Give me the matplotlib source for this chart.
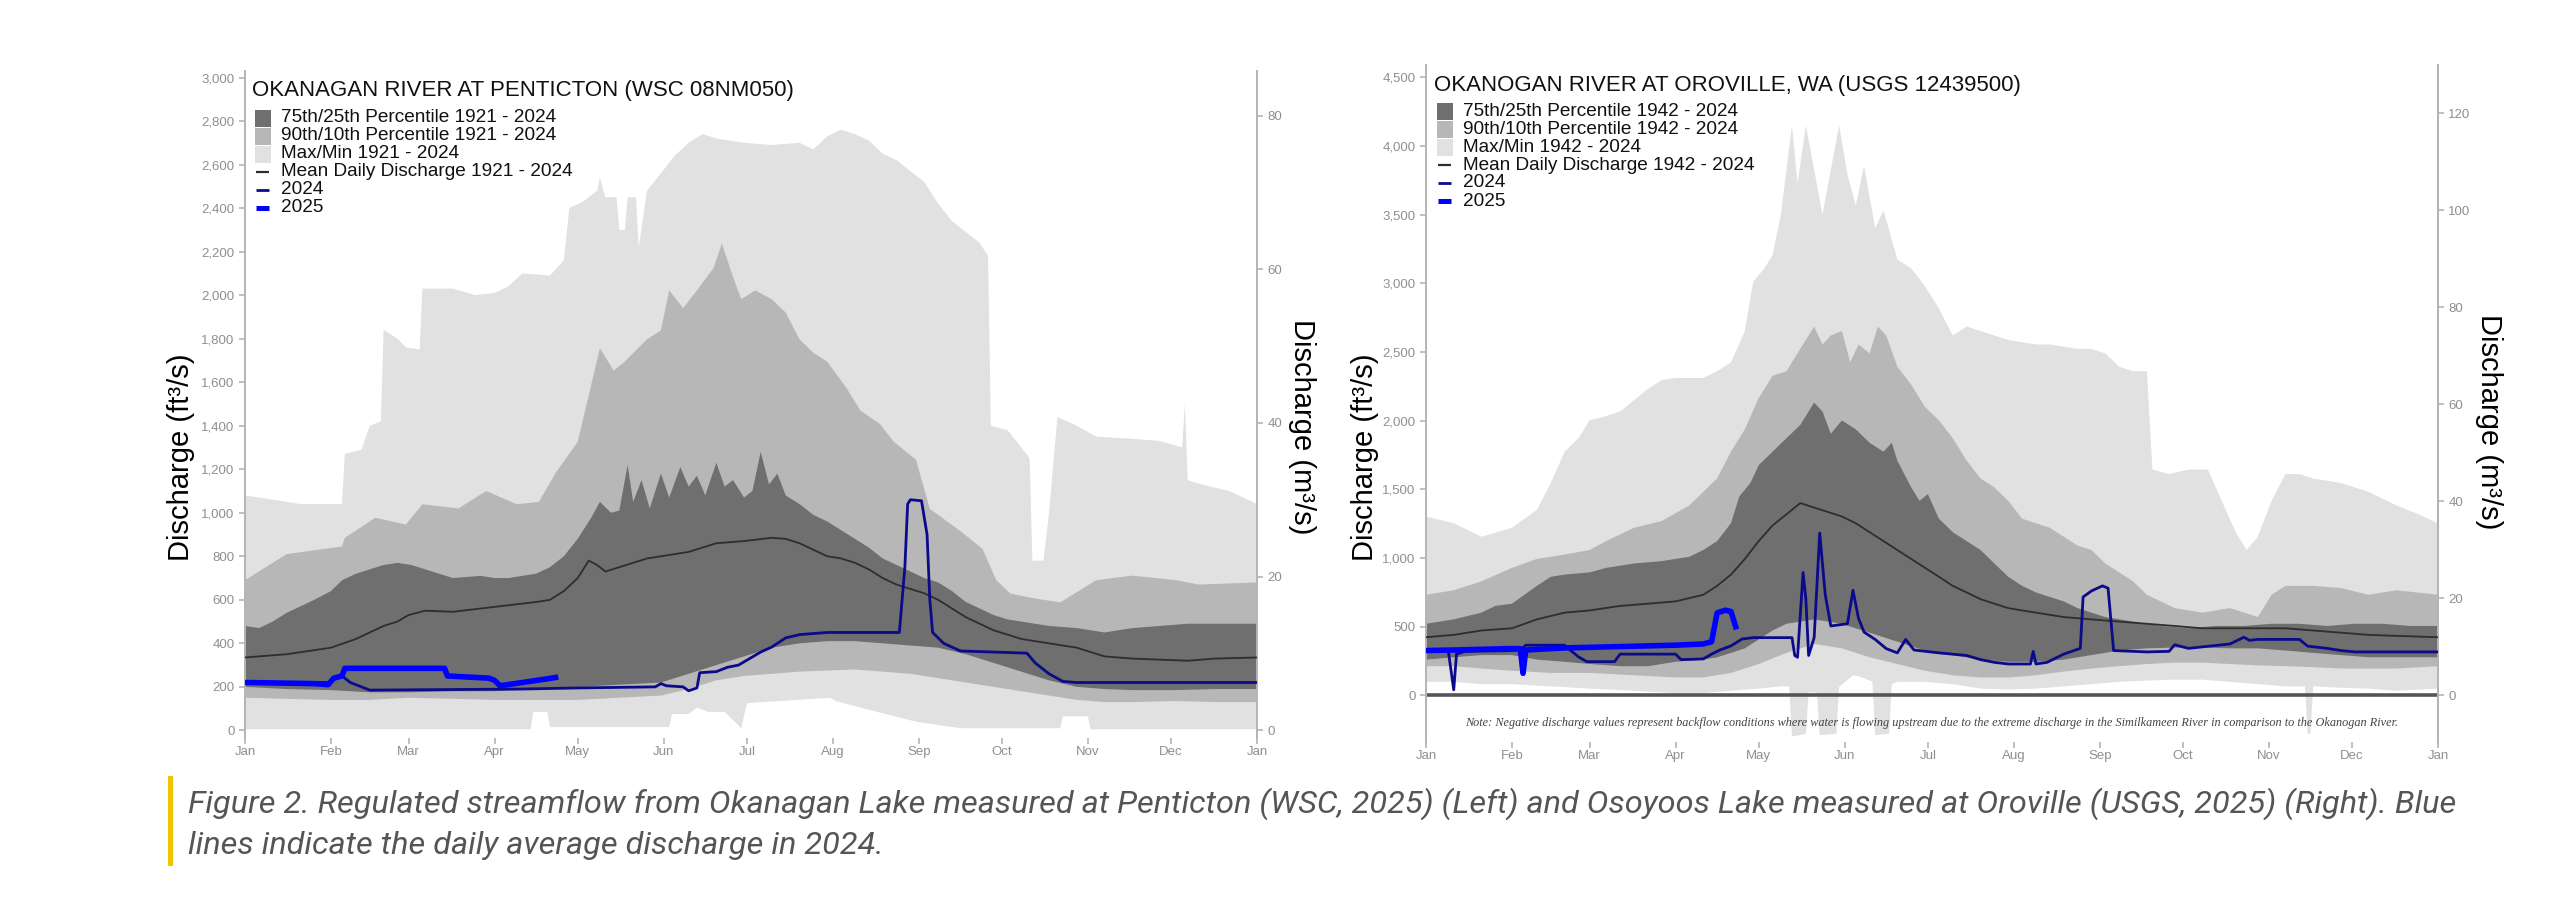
import numpy as np
import matplotlib
matplotlib.use("Agg")
import matplotlib.pyplot as plt
from matplotlib.patches import Rectangle
from matplotlib.lines import Line2D

plt.rcParams['font.family'] = ['Liberation Sans', 'DejaVu Sans']

W, H = 2560, 898
CFS_TO_CMS = 0.0283168

MONTHS = ['Jan', 'Feb', 'Mar', 'Apr', 'May', 'Jun', 'Jul', 'Aug', 'Sep', 'Oct', 'Nov', 'Dec', 'Jan']
MONTH_DAYS = [0, 31, 59, 90, 120, 151, 181, 212, 243, 273, 304, 334, 365]

# ---------------- Left chart: Okanagan River at Penticton ----------------
L_TITLE = 'OKANAGAN RIVER AT PENTICTON (WSC 08NM050)'
L_LEGEND = ['75th/25th Percentile 1921 - 2024', '90th/10th Percentile 1921 - 2024',
            'Max/Min 1921 - 2024', 'Mean Daily Discharge 1921 - 2024', '2024', '2025']
L_YTICKS = [0, 200, 400, 600, 800, 1000, 1200, 1400, 1600, 1800, 2000, 2200, 2400, 2600, 2800, 3000]
L_Y2TICKS = [0, 20, 40, 60, 80]

L_max_d = [0, 10, 20, 30, 35, 36, 42, 45, 49, 50, 55, 58, 63, 64, 75, 83, 90, 95, 100, 110, 115, 117,
           122, 127, 128, 130, 134, 135, 137, 138, 141, 142, 145, 150, 155, 160, 165, 170, 180, 190, 200,
           205, 210, 215, 220, 225, 230, 235, 240, 245, 250, 255, 260, 265, 268, 269, 275, 280, 283, 284,
           288, 290, 293, 300, 307, 320, 330, 338, 339, 340, 345, 355, 365]
L_max_v = [1080, 1060, 1040, 1040, 1040, 1270, 1290, 1400, 1420, 1840, 1800, 1760, 1750, 2030, 2030, 2000,
           2010, 2040, 2100, 2090, 2160, 2400, 2430, 2480, 2540, 2450, 2450, 2300, 2300, 2450, 2450, 2220,
           2480, 2560, 2640, 2700, 2740, 2720, 2700, 2690, 2700, 2670, 2730, 2760, 2740, 2710, 2650, 2620,
           2570, 2520, 2420, 2340, 2290, 2240, 2180, 1400, 1380, 1300, 1250, 780, 780, 1000, 1440, 1400,
           1350, 1340, 1330, 1300, 1500, 1150, 1130, 1100, 1040]
L_min_d = [0, 103, 104, 109, 110, 153, 154, 160, 163, 167, 173, 179, 181, 211, 213, 228, 242, 258, 294,
           295, 304, 305, 365]
L_min_v = [5, 5, 85, 85, 15, 15, 75, 75, 105, 85, 85, 10, 125, 150, 135, 85, 40, 10, 10, 65, 65, 5, 5]
L_p90_d = [0, 15, 35, 36, 47, 58, 64, 77, 87, 98, 106, 112, 120, 128, 133, 137, 145, 150, 153, 158, 163,
           169, 172, 176, 179, 184, 190, 195, 200, 205, 210, 217, 222, 229, 234, 242, 247, 258, 266, 271,
           276, 284, 294, 307, 320, 336, 344, 365]
L_p90_v = [690, 810, 845, 885, 977, 946, 1039, 1020, 1100, 1039, 1050, 1182, 1326, 1756, 1653, 1695, 1797,
           1838, 2022, 1940, 2022, 2125, 2237, 2084, 1981, 2022, 1981, 1920, 1797, 1735, 1694, 1572, 1469,
           1408, 1326, 1244, 1018, 916, 834, 690, 629, 608, 588, 690, 711, 690, 670, 680]
L_p75_d = [0, 5, 10, 15, 20, 25, 31, 35, 40, 45, 50, 55, 60, 65, 70, 75, 80, 85, 90, 95, 100, 105, 110,
           115, 120, 125, 128, 132, 135, 138, 140, 143, 146, 150, 153, 157, 160, 163, 166, 170, 173, 176,
           180, 183, 186, 189, 192, 195, 200, 205, 210, 215, 220, 225, 230, 235, 240, 245, 250, 255, 260,
           265, 270, 275, 280, 290, 300, 310, 320, 330, 340, 350, 365]
L_p75_v = [480, 470, 500, 540, 570, 600, 640, 690, 720, 740, 760, 770, 760, 740, 720, 700, 705, 710, 700,
           700, 710, 720, 750, 800, 880, 980, 1050, 1000, 1010, 1220, 1050, 1150, 1020, 1180, 1070, 1210,
           1120, 1170, 1080, 1230, 1120, 1150, 1070, 1100, 1280, 1130, 1180, 1080, 1040, 990, 960, 920, 880,
           840, 790, 760, 730, 700, 680, 640, 590, 560, 530, 510, 500, 480, 470, 450, 470, 480, 490, 490, 490]
L_mean_d = [0, 15, 31, 40, 50, 55, 59, 65, 75, 85, 95, 105, 110, 115, 120, 124, 127, 130, 135, 140, 145,
            150, 160, 170, 180, 190, 195, 200, 205, 210, 215, 220, 225, 230, 235, 240, 245, 250, 255, 260,
            265, 270, 275, 280, 290, 300, 305, 310, 320, 330, 340, 350, 365]
L_mean_v = [335, 350, 380, 420, 480, 500, 530, 550, 545, 560, 575, 590, 600, 640, 700, 780, 760, 730, 750,
            770, 790, 800, 820, 860, 870, 885, 880, 860, 830, 800, 790, 770, 740, 700, 670, 650, 630, 600,
            560, 520, 490, 460, 440, 420, 400, 380, 360, 340, 330, 325, 320, 330, 335]
L_p25_d = [0, 15, 31, 45, 59, 75, 90, 105, 120, 135, 150, 160, 170, 180, 190, 200, 210, 220, 230, 240,
           250, 260, 270, 280, 290, 300, 310, 320, 335, 350, 365]
L_p25_v = [200, 190, 185, 175, 175, 180, 180, 190, 200, 210, 220, 260, 300, 340, 380, 400, 410, 410, 400,
           390, 380, 350, 310, 270, 230, 200, 190, 185, 185, 190, 190]
L_p10_d = [0, 15, 31, 45, 59, 75, 90, 105, 120, 135, 150, 160, 170, 180, 190, 200, 210, 220, 230, 240,
           250, 260, 270, 280, 290, 300, 310, 320, 335, 350, 365]
L_p10_v = [150, 145, 140, 140, 150, 145, 140, 140, 140, 150, 160, 190, 230, 250, 260, 270, 275, 280, 270,
           260, 240, 220, 200, 180, 160, 140, 130, 130, 135, 130, 130]
L_2024_d = [0, 31, 33, 35, 38, 42, 45, 100, 120, 148, 150, 152, 158, 160, 163, 164, 170, 174, 178, 182,
            186, 190, 195, 200, 210, 236, 238, 239, 240, 244, 246, 247, 248, 252, 258, 282, 285, 290, 295,
            300, 365]
L_2024_v = [220, 220, 245, 250, 220, 200, 185, 190, 195, 200, 215, 205, 200, 182, 195, 265, 270, 290, 300,
            330, 360, 383, 425, 440, 450, 450, 750, 1040, 1060, 1055, 900, 600, 450, 400, 365, 355, 310,
            260, 225, 220, 220]
L_2025_d = [0, 25, 30, 32, 35, 36, 72, 73, 88, 90, 92, 100, 108, 113]
L_2025_v = [220, 215, 210, 240, 250, 285, 285, 250, 240, 230, 205, 220, 235, 245]

# ---------------- Right chart: Okanogan River at Oroville ----------------
R_TITLE = 'OKANOGAN RIVER AT OROVILLE, WA (USGS 12439500)'
R_LEGEND = ['75th/25th Percentile 1942 - 2024', '90th/10th Percentile 1942 - 2024',
            'Max/Min 1942 - 2024', 'Mean Daily Discharge 1942 - 2024', '2024', '2025']
R_YTICKS = [0, 500, 1000, 1500, 2000, 2500, 3000, 3500, 4000, 4500]
R_Y2TICKS = [0, 20, 40, 60, 80, 100, 120]
R_NOTE = ('Note: Negative discharge values represent backflow conditions where water is flowing upstream '
          'due to the extreme discharge in the Similkameen River in comparison to the Okanogan River.')

R_max_d = [0, 10, 20, 31, 40, 45, 50, 55, 59, 65, 70, 80, 85, 90, 100, 105, 110, 115, 118, 122, 125, 128,
           132, 134, 137, 140, 143, 146, 149, 152, 155, 158, 162, 165, 170, 175, 180, 185, 190, 195, 200,
           205, 210, 215, 220, 225, 230, 235, 240, 245, 250, 255, 260, 262, 268, 275, 282, 287, 292, 296,
           300, 305, 310, 315, 320, 330, 340, 350, 358, 365]
R_max_v = [1302, 1253, 1155, 1220, 1350, 1546, 1774, 1872, 2002, 2034, 2067, 2230, 2295, 2311, 2311, 2360,
           2425, 2653, 3011, 3108, 3206, 3499, 4150, 3727, 4150, 3825, 3499, 3825, 4150, 3792, 3564, 3857,
           3401, 3532, 3174, 3108, 2978, 2816, 2620, 2686, 2653, 2620, 2588, 2571, 2555, 2555, 2539, 2523,
           2523, 2490, 2392, 2360, 2360, 1644, 1611, 1644, 1644, 1416, 1188, 1058, 1155, 1416, 1611, 1611,
           1579, 1546, 1481, 1383, 1318, 1253]
R_min_d = [0, 10, 20, 31, 45, 59, 75, 90, 100, 110, 120, 128, 131, 132, 137, 138, 141, 142, 148, 149,
           154, 156, 161, 162, 167, 168, 170, 180, 190, 200, 210, 220, 230, 240, 250, 260, 270,
           280, 290, 300, 310, 317, 318, 319, 320, 330, 340, 350, 365]
R_min_v = [98, 98, 81, 81, 65, 49, 33, 16, 16, 33, 49, 65, 65, -300, -280, 20, 20, -290, -280, 60,
           146, 140, 100, -290, -280, 81, 98, 98, 81, 49, 42, 49, 65, 81, 98, 107, 114,
           114, 98, 81, 65, 65, -280, -280, 65, 55, 49, 33, 49]
R_p90_d = [0, 10, 20, 31, 40, 50, 59, 65, 75, 85, 95, 100, 105, 110, 115, 120, 125, 130, 135, 140, 143,
           146, 150, 153, 156, 160, 163, 166, 170, 175, 180, 185, 190, 195, 200, 205, 210, 215, 220, 225,
           230, 235, 240, 245, 250, 255, 260, 265, 270, 280, 290, 300, 305, 310, 320, 330, 340, 350, 365]
R_p90_v = [732, 765, 830, 928, 993, 1025, 1058, 1123, 1220, 1269, 1383, 1481, 1579, 1774, 1937, 2165, 2327,
           2360, 2523, 2686, 2555, 2620, 2653, 2425, 2555, 2490, 2686, 2620, 2392, 2262, 2099, 2002, 1872,
           1709, 1579, 1514, 1416, 1286, 1253, 1220, 1155, 1090, 1058, 960, 895, 830, 732, 684, 635, 602,
           635, 570, 732, 797, 797, 781, 732, 765, 732]
R_p75_d = [0, 10, 20, 25, 31, 40, 45, 50, 59, 65, 75, 85, 95, 100, 105, 110, 113, 117, 120, 125, 130, 135,
           140, 143, 146, 150, 155, 160, 165, 168, 170, 175, 178, 181, 185, 190, 195, 200, 205, 210, 215,
           220, 225, 230, 235, 240, 245, 255, 265, 275, 285, 295, 305, 315, 325, 335, 345, 355, 365]
R_p75_v = [521, 553, 602, 651, 667, 797, 863, 879, 895, 928, 960, 977, 1009, 1058, 1123, 1253, 1448, 1546,
           1676, 1774, 1872, 1969, 2132, 2067, 1904, 2002, 1937, 1839, 1774, 1839, 1709, 1514, 1416, 1465,
           1286, 1188, 1123, 1058, 960, 863, 797, 749, 716, 684, 635, 602, 570, 537, 505, 488, 505, 505, 521,
           521, 505, 521, 521, 505, 505]
R_mean_d = [0, 10, 20, 31, 40, 50, 59, 70, 80, 90, 100, 105, 110, 115, 120, 125, 130, 135, 140, 145, 150,
            155, 160, 165, 170, 175, 180, 185, 190, 195, 200, 205, 210, 215, 220, 230, 240, 250, 260, 270,
            280, 290, 300, 310, 320, 330, 340, 350, 365]
R_mean_v = [423, 440, 472, 488, 553, 602, 618, 651, 667, 684, 732, 797, 879, 993, 1123, 1237, 1318, 1400,
            1367, 1335, 1302, 1253, 1188, 1123, 1058, 993, 928, 863, 797, 749, 700, 667, 635, 618, 602, 570,
            553, 537, 521, 505, 488, 488, 488, 488, 472, 456, 440, 433, 423]
R_p25_d = [0, 10, 20, 31, 40, 50, 59, 70, 80, 90, 100, 105, 110, 115, 120, 125, 130, 135, 140, 145, 150,
           155, 160, 165, 170, 175, 180, 190, 200, 210, 220, 230, 240, 250, 260, 270, 280, 290, 300, 310,
           320, 330, 340, 350, 365]
R_p25_v = [260, 277, 293, 293, 260, 244, 228, 212, 212, 244, 260, 277, 309, 342, 407, 472, 521, 537, 553,
           537, 521, 488, 456, 423, 391, 358, 326, 293, 260, 244, 244, 260, 293, 326, 342, 348, 348, 342, 342,
           326, 309, 293, 277, 277, 277]
R_p10_d = [0, 10, 20, 31, 45, 59, 75, 90, 100, 110, 120, 130, 140, 150, 160, 170, 180, 190, 200, 210, 220,
           230, 240, 250, 260, 270, 280, 290, 300, 310, 320, 330, 340, 350, 365]
R_p10_v = [212, 212, 195, 179, 163, 163, 146, 130, 130, 163, 228, 309, 374, 342, 277, 228, 179, 146, 130,
           130, 146, 173, 195, 212, 228, 238, 238, 228, 218, 212, 205, 195, 195, 195, 212]
R_2024_d = [0, 8, 10, 11, 14, 30, 34, 36, 50, 52, 55, 58, 68, 70, 90, 92, 100, 103, 106, 110, 114, 118,
            132, 133, 134, 136, 137, 138, 140, 142, 144, 146, 152, 154, 156, 158, 162, 166, 170, 173, 176,
            185, 195, 200, 205, 210, 218, 219, 220, 224, 230, 236, 237, 240, 244, 246, 248, 260, 268, 270,
            275, 290, 295, 297, 300, 315, 318, 325, 330, 335, 365]
R_2024_v = [326, 330, 40, 300, 320, 325, 330, 365, 365, 330, 280, 245, 245, 300, 300, 260, 265, 300, 330,
            360, 410, 420, 420, 290, 277, 895, 700, 290, 420, 1181, 732, 505, 521, 765, 560, 460, 407, 340,
            309, 407, 330, 309, 290, 260, 240, 228, 228, 320, 228, 240, 300, 342, 716, 760, 797, 780, 326, 316,
            320, 368, 342, 374, 423, 400, 407, 407, 358, 342, 326, 316, 316]
R_2025_d = [0, 10, 20, 30, 34, 35, 36, 50, 70, 90, 100, 103, 105, 108, 110, 112]
R_2025_v = [326, 330, 335, 340, 340, 160, 330, 345, 355, 365, 374, 390, 600, 620, 610, 480]

# ---------------- Styling ----------------
C_LIGHT = '#e1e1e1'
C_MED = '#b7b7b7'
C_DARK = '#6f6f6f'
C_MEAN = '#2e2e2e'
C_2024 = '#0a0a8a'
C_2025 = '#0000ff'
C_AXIS = '#b4b4b4'
C_TICKLBL = '#8f8f8f'

CAPTION_1 = ('Figure 2. Regulated streamflow from Okanagan Lake measured at Penticton (WSC, 2025) (Left) and '
             'Osoyoos Lake measured at Oroville (USGS, 2025) (Right). Blue')
CAPTION_2 = 'lines indicate the daily average discharge in 2024.'

fig = plt.figure(figsize=(W / 100, H / 100), dpi=100)
fig.patch.set_facecolor('white')


def fx(x):
    return x / W


def fy(y):
    return 1 - y / H


def band(ax, d_hi, v_hi, d_lo, v_lo, color):
    xs = np.r_[np.asarray(d_hi, float), np.asarray(d_lo, float)[::-1]]
    ys = np.r_[np.asarray(v_hi, float), np.asarray(v_lo, float)[::-1]]
    ax.fill(xs, ys, color=color, lw=0, zorder=1)


def make_chart(box, ylim, yticks, y2ticks, series, title, legend, legend_px, zero_line=False, note=None):
    x0, x1, ytop, ybot = box
    ax = fig.add_axes([fx(x0), fy(ybot), fx(x1 - x0), (ybot - ytop) / H])
    ax.set_xlim(0, 365)
    ax.set_ylim(*ylim)
    (mx_d, mx_v, mn_d, mn_v, p90_d, p90_v, p10_d, p10_v, p75_d, p75_v, p25_d, p25_v,
     mean_d, mean_v, y24_d, y24_v, y25_d, y25_v) = series
    band(ax, mx_d, mx_v, mn_d, mn_v, C_LIGHT)
    band(ax, p90_d, p90_v, p10_d, p10_v, C_MED)
    band(ax, p75_d, p75_v, p25_d, p25_v, C_DARK)
    if zero_line:
        ax.axhline(0, color='#555555', lw=2.6, zorder=2)
    ax.plot(mean_d, mean_v, color=C_MEAN, lw=1.3, zorder=3)
    ax.plot(y24_d, y24_v, color=C_2024, lw=2.0, zorder=4)
    ax.plot(y25_d, y25_v, color=C_2025, lw=4.0, zorder=5, solid_capstyle='butt')

    for s in ['top', 'bottom']:
        ax.spines[s].set_visible(False)
    for s in ['left', 'right']:
        ax.spines[s].set_color(C_AXIS)
        ax.spines[s].set_linewidth(1.4)
    ax.set_yticks(yticks)
    ax.set_yticklabels([f'{v:,}' for v in yticks])
    ax.set_xticks(MONTH_DAYS)
    ax.set_xticklabels(MONTHS)
    ax.tick_params(axis='both', colors=C_AXIS, labelcolor=C_TICKLBL, labelsize=9.5, length=4, width=1.2)
    ax.tick_params(axis='x', pad=2)
    ax.set_facecolor('white')

    sec = ax.secondary_yaxis('right', functions=(lambda v: v * CFS_TO_CMS, lambda v: v / CFS_TO_CMS))
    sec.set_yticks(y2ticks)
    sec.set_yticklabels([str(v) for v in y2ticks])
    sec.tick_params(colors=C_AXIS, labelcolor=C_TICKLBL, labelsize=9.5, length=4, width=1.2)
    sec.spines['right'].set_color(C_AXIS)
    sec.spines['right'].set_linewidth(1.4)

    # title + legend (drawn in figure pixel space)
    tx, ty, rows, sw_x, txt_x = legend_px
    fig.text(fx(tx), fy(ty), title, fontsize=16, color='#111111', va='baseline', ha='left')
    kinds = [('patch', C_DARK), ('patch', C_MED), ('patch', C_LIGHT),
             ('line', C_MEAN, 1.6), ('line', C_2024, 2.0), ('line', C_2025, 3.6)]
    for k, (lab, yc) in enumerate(zip(legend, rows)):
        kd = kinds[k]
        if kd[0] == 'patch':
            fig.patches.append(Rectangle((fx(sw_x), fy(yc + 8.5)), fx(16), 17 / H, transform=fig.transFigure,
                                         facecolor=kd[1], edgecolor='none'))
        else:
            fig.lines.append(Line2D([fx(sw_x + 1), fx(sw_x + 14)], [fy(yc), fy(yc)], transform=fig.transFigure,
                                    color=kd[1], lw=kd[2], solid_capstyle='butt'))
        fig.text(fx(txt_x), fy(yc), lab, fontsize=13.7, color='#111111', va='center', ha='left')
    if note:
        ax.text(0.5, 0.028, note, transform=ax.transAxes, ha='center', va='center', fontsize=8.8,
                style='italic', color='#444444', family='Liberation Serif')
    return ax


L_series = (L_max_d, L_max_v, L_min_d, L_min_v, L_p90_d, L_p90_v, L_p10_d, L_p10_v, L_p75_d, L_p75_v,
            L_p25_d, L_p25_v, L_mean_d, L_mean_v, L_2024_d, L_2024_v, L_2025_d, L_2025_v)
R_series = (R_max_d, R_max_v, R_min_d, R_min_v, R_p90_d, R_p90_v, R_p10_d, R_p10_v, R_p75_d, R_p75_v,
            R_p25_d, R_p25_v, R_mean_d, R_mean_v, R_2024_d, R_2024_v, R_2025_d, R_2025_v)

make_chart((245, 1257, 71, 738), (-35, 3030), L_YTICKS, L_Y2TICKS, L_series, L_TITLE, L_LEGEND,
           (252, 96, [118, 136, 154, 172, 190, 208], 255, 281))
make_chart((1426, 2438, 65, 742), (-340, 4590), R_YTICKS, R_Y2TICKS, R_series, R_TITLE, R_LEGEND,
           (1434, 91, [111, 129, 147, 165, 183, 201], 1437, 1463), zero_line=True, note=R_NOTE)

# axis titles
fig.text(fx(181), fy(457), 'Discharge (ft³/s)', rotation=90, fontsize=21, ha='center', va='center')
fig.text(fx(1302), fy(427), 'Discharge (m³/s)', rotation=270, fontsize=21, ha='center', va='center')
fig.text(fx(1365), fy(457), 'Discharge (ft³/s)', rotation=90, fontsize=21, ha='center', va='center')
fig.text(fx(2489), fy(422), 'Discharge (m³/s)', rotation=270, fontsize=21, ha='center', va='center')

# caption with yellow bar
fig.patches.append(Rectangle((fx(168), fy(866)), fx(5), 90 / H, transform=fig.transFigure,
                             facecolor='#f2c500', edgecolor='none'))
fig.text(fx(188), fy(804), CAPTION_1, fontsize=23.4, style='italic', color='#555555', va='center', ha='left',
         family=['Roboto', 'Liberation Sans'])
fig.text(fx(188), fy(846), CAPTION_2, fontsize=23.4, style='italic', color='#555555', va='center', ha='left',
         family=['Roboto', 'Liberation Sans'])

fig.savefig('out.png', dpi=100, facecolor='white')
